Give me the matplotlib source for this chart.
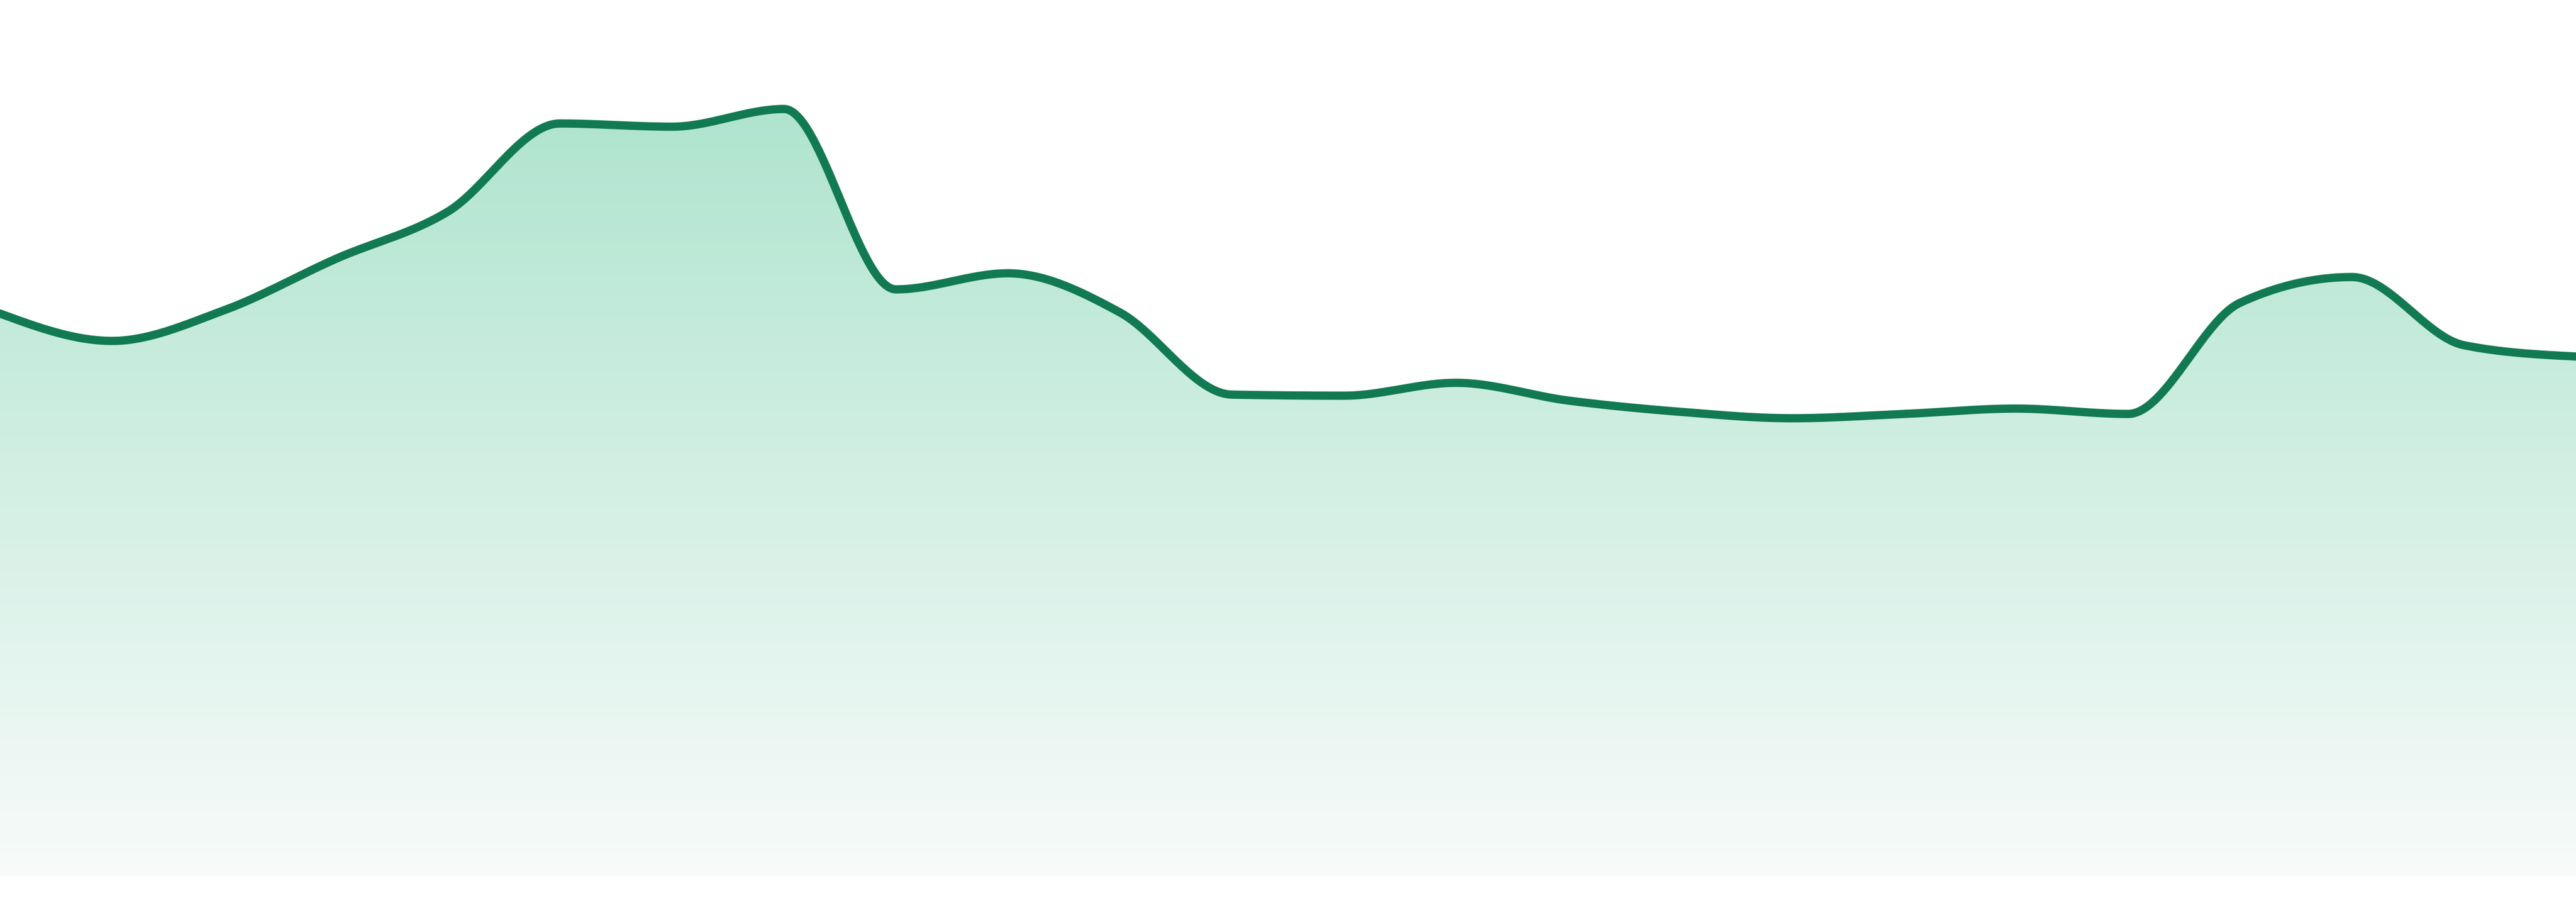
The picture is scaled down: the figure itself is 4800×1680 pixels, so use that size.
import numpy as np
import matplotlib
matplotlib.use('Agg')
import matplotlib.pyplot as plt
from matplotlib.path import Path
from matplotlib.patches import PathPatch

# series values (arbitrary units, baseline = 0), 24 evenly spaced samples
values = [104.8, 99.7, 105.4, 115.0, 123.8, 140.2, 139.6, 142.9,
          109.3, 112.3, 105.0, 89.7, 89.5, 91.9, 88.6, 86.5,
          85.3, 86.1, 87.1, 86.1, 106.8, 111.6, 98.9, 96.8]
index = list(range(len(values)))

line_color = '#127a52'
fill_top = np.array([165, 225, 201]) / 255.0
fill_bottom = np.array([248, 251, 250]) / 255.0


def monotone_x(x, y, samples=60):
    # same idea as d3.curveMonotoneX
    x = np.asarray(x, float)
    y = np.asarray(y, float)
    n = len(x)
    h = np.diff(x)
    s = np.diff(y) / h
    t = np.zeros(n)
    for i in range(1, n - 1):
        p = (s[i - 1] * h[i] + s[i] * h[i - 1]) / (h[i - 1] + h[i])
        t[i] = (np.sign(s[i - 1]) + np.sign(s[i])) * min(abs(s[i - 1]), abs(s[i]), 0.5 * abs(p))
    t[0] = (3 * s[0] - t[1]) / 2
    t[-1] = (3 * s[-1] - t[-2]) / 2
    xs, ys = [], []
    for i in range(n - 1):
        u = np.linspace(0, 1, samples, endpoint=(i == n - 2))
        dx = h[i]
        h00 = 2 * u**3 - 3 * u**2 + 1
        h10 = u**3 - 2 * u**2 + u
        h01 = -2 * u**3 + 3 * u**2
        h11 = u**3 - u**2
        xs.append(x[i] + u * dx)
        ys.append(h00 * y[i] + h10 * dx * t[i] + h01 * y[i + 1] + h11 * dx * t[i + 1])
    return np.concatenate(xs), np.concatenate(ys)


sx, sy = monotone_x(index, values)

fig = plt.figure(figsize=(16, 5.6), dpi=300)
ax = fig.add_axes([0, 0, 1, 1])
ymin, ymax = -4.8, 163.2
ax.axis('off')

# gradient fill under the curve, clipped to the area polygon
grad = np.linspace(0, 1, 512)[:, None]  # 0 at top, 1 at bottom of axes
frac = np.clip(grad * (ymax - ymin) / (ymax - 0), 0, 1)
img = fill_top[None, None, :] * (1 - frac[..., None]) + fill_bottom[None, None, :] * frac[..., None]
img = np.repeat(img, 2, axis=1)
im = ax.imshow(img, extent=(0, len(values) - 1, ymin, ymax), aspect='auto',
               origin='upper', interpolation='bilinear', zorder=1)

verts = np.vstack([np.column_stack([sx, sy]),
                   [[sx[-1], 0], [sx[0], 0], [sx[0], sy[0]]]])
codes = [Path.MOVETO] + [Path.LINETO] * (len(verts) - 2) + [Path.CLOSEPOLY]
patch = PathPatch(Path(verts, codes), facecolor='none', edgecolor='none')
ax.add_patch(patch)
im.set_clip_path(patch)

ax.plot(sx, sy, color=line_color, lw=3.7, solid_joinstyle='round',
        solid_capstyle='round', zorder=3)

ax.set_xlim(0, len(values) - 1)
ax.set_ylim(ymin, ymax)

plt.savefig('out.png', dpi=300, facecolor='white')
